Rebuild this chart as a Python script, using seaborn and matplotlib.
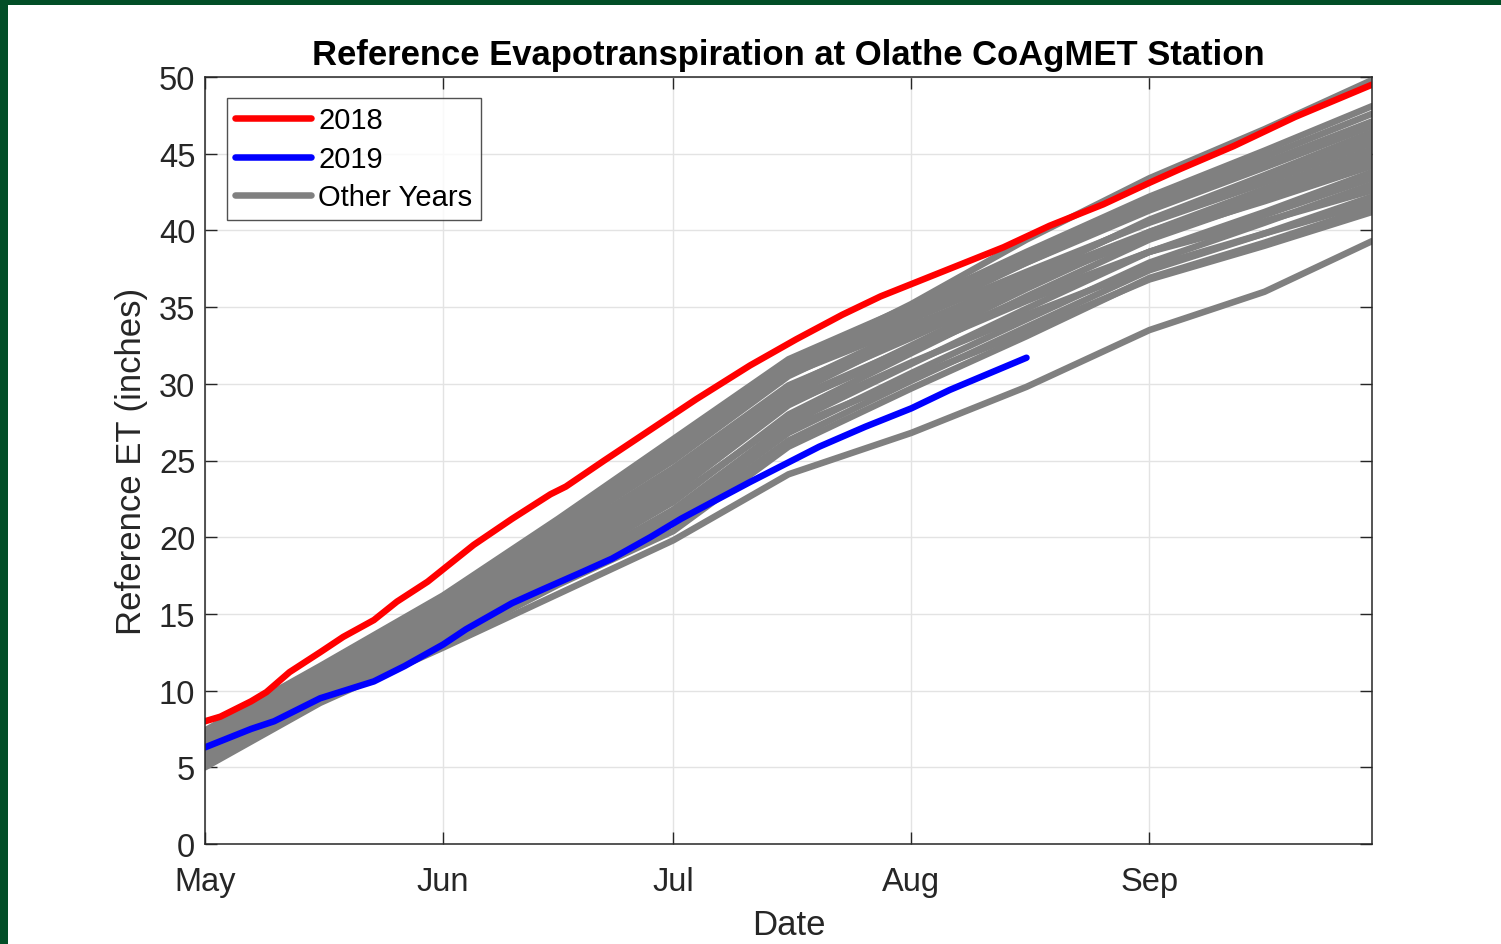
import numpy as np
import pandas as pd
import matplotlib
matplotlib.use("Agg")
import matplotlib.pyplot as plt
import matplotlib.dates as mdates
from matplotlib.lines import Line2D
from matplotlib.patches import Rectangle
import seaborn as sns

# ---------------------------------------------------------------------------
# Cumulative reference ET (inches) at Olathe, counted from May 1.
# Day offsets are days after May 1.
# ---------------------------------------------------------------------------
season_start = "2018-05-01"
season_end = "2018-09-30"

days_2018 = [0, 2, 6, 8, 11, 15, 18, 22, 25, 29, 32, 35, 40, 45, 47, 52, 58,
             64, 71, 77, 83, 88, 92, 97, 104, 110, 117, 123, 127, 134, 142,
             152]
et_2018 = [8.0, 8.3, 9.3, 9.9, 11.2, 12.5, 13.5, 14.6, 15.8, 17.1, 18.3,
           19.5, 21.2, 22.8, 23.3, 25.0, 27.0, 29.0, 31.2, 32.9, 34.5, 35.7,
           36.5, 37.5, 38.9, 40.3, 41.7, 43.1, 44.0, 45.5, 47.4, 49.5]

days_2019 = [0, 6, 9, 15, 22, 26, 31, 34, 40, 44, 49, 53, 58, 62, 65, 71,
             80, 86, 92, 97, 107]
et_2019 = [6.3, 7.5, 8.0, 9.5, 10.6, 11.6, 13.0, 14.0, 15.7, 16.6, 17.7,
           18.6, 20.0, 21.2, 22.0, 23.6, 25.9, 27.2, 28.4, 29.6, 31.7]

# Other years, sampled on the 1st and 16th of each month
anchor_days = [0, 15, 31, 46, 61, 76, 92, 107, 123, 138, 152]
et_1996 = [7.4, 11.6, 16.2, 21.2, 26.4, 31.6, 35.1, 38.6, 42.2, 45.2, 48.1]
et_1997 = [7.0, 11.3, 15.9, 20.8, 25.9, 31.2, 34.8, 38.3, 41.9, 44.8, 47.6]
et_1998 = [6.6, 10.9, 15.4, 20.2, 25.0, 30.5, 34.3, 37.9, 41.5, 44.4, 47.1]
et_1999 = [7.2, 11.4, 16.0, 20.9, 26.0, 31.1, 34.6, 37.9, 41.3, 44.1, 46.8]
et_2000 = [6.3, 10.5, 14.7, 19.0, 23.6, 29.2, 33.2, 36.9, 40.7, 43.6, 46.4]
et_2001 = [6.5, 10.7, 15.0, 19.5, 24.1, 29.8, 33.6, 37.1, 40.6, 43.4, 46.0]
et_2002 = [6.9, 11.1, 15.7, 20.4, 25.3, 30.7, 34.2, 37.3, 40.5, 43.1, 45.7]
et_2003 = [6.0, 10.1, 14.2, 18.5, 22.9, 28.6, 32.5, 36.2, 39.9, 42.7, 45.3]
et_2004 = [6.4, 10.4, 14.5, 19.2, 23.9, 29.5, 33.0, 36.4, 39.8, 42.4, 45.0]
et_2005 = [5.8, 9.9, 13.8, 17.9, 22.3, 28.0, 32.0, 35.7, 39.4, 42.0, 44.6]
et_2006 = [6.7, 10.8, 15.2, 19.8, 24.5, 29.9, 33.3, 36.5, 39.6, 41.9, 44.2]
et_2007 = [5.6, 9.7, 13.5, 17.5, 21.8, 27.4, 31.3, 34.9, 38.6, 41.2, 43.8]
et_2008 = [6.1, 10.2, 14.3, 18.7, 23.1, 28.7, 32.2, 35.4, 38.6, 41.0, 43.4]
et_2009 = [5.5, 9.6, 13.3, 17.2, 21.3, 26.8, 30.7, 34.2, 37.9, 40.5, 43.0]
et_2010 = [6.2, 10.3, 14.6, 18.9, 23.3, 28.9, 32.4, 35.6, 38.6, 40.6, 42.6]
et_2011 = [5.4, 9.5, 13.2, 17.0, 20.9, 26.3, 30.2, 33.7, 37.4, 39.8, 42.2]
et_2012 = [7.2, 11.3, 15.8, 20.8, 26.0, 31.2, 35.2, 39.4, 43.4, 46.6, 49.8]
et_2013 = [5.9, 10.0, 14.0, 18.2, 22.5, 27.8, 31.4, 34.5, 37.6, 39.8, 41.8]
et_2014 = [5.3, 9.4, 13.0, 16.9, 20.4, 25.9, 29.7, 33.1, 36.9, 39.2, 41.5]
et_2015 = [5.7, 9.8, 13.6, 17.7, 21.7, 27.1, 30.4, 33.4, 36.8, 39.0, 41.2]
et_2016 = [6.8, 11.0, 15.6, 20.6, 25.6, 30.6, 33.8, 36.8, 39.9, 42.4, 44.9]
et_2017 = [5.0, 9.2, 12.8, 16.3, 19.8, 24.1, 26.8, 29.8, 33.5, 36.0, 39.3]

other_series = [
    (1996, et_1996), (1997, et_1997), (1998, et_1998), (1999, et_1999),
    (2000, et_2000), (2001, et_2001), (2002, et_2002), (2003, et_2003),
    (2004, et_2004), (2005, et_2005), (2006, et_2006), (2007, et_2007),
    (2008, et_2008), (2009, et_2009), (2010, et_2010), (2011, et_2011),
    (2012, et_2012), (2013, et_2013), (2014, et_2014), (2015, et_2015),
    (2016, et_2016), (2017, et_2017),
]

start = pd.Timestamp(season_start)


def to_frame(year, days, values):
    return pd.DataFrame({
        "year": year,
        "date": start + pd.to_timedelta(days, unit="D"),
        "et": values,
    })


others = pd.concat([to_frame(y, anchor_days, v) for y, v in other_series],
                   ignore_index=True)
df_2018 = to_frame(2018, days_2018, et_2018)
df_2019 = to_frame(2019, days_2019, et_2019)

# ---------------------------------------------------------------------------
sns.set_style("ticks")
plt.rcParams["font.family"] = ["Liberation Sans", "DejaVu Sans"]

W, H, DPI = 1501, 945, 100
fig = plt.figure(figsize=(W / DPI, H / DPI), dpi=DPI, facecolor="white")
ax = fig.add_axes([205 / W, 1 - 845 / H, (1372 - 205) / W, (845 - 78) / H])

# dark green frame on the left and top edges
fig.patches.append(Rectangle((0, 0), 8 / W, 1, transform=fig.transFigure,
                             facecolor="#024e27", edgecolor="none", zorder=10))
fig.patches.append(Rectangle((0, 1 - 6 / H), 1, 6 / H, transform=fig.transFigure,
                             facecolor="#024e27", edgecolor="none", zorder=10))

lw = 4.7
gray = "#808080"
sns.lineplot(data=others, x="date", y="et", units="year", estimator=None,
             color=gray, lw=lw, sort=False, ax=ax, legend=False)
sns.lineplot(data=df_2018, x="date", y="et", color="#ff0000", lw=lw,
             ax=ax, legend=False)
sns.lineplot(data=df_2019, x="date", y="et", color="#0000ff", lw=lw,
             ax=ax, legend=False)

ax.set_xlim(pd.Timestamp(season_start), pd.Timestamp(season_end))
ax.set_ylim(0, 50)
ax.set_yticks(np.arange(0, 51, 5))
ax.xaxis.set_major_locator(mdates.MonthLocator())
ax.xaxis.set_major_formatter(mdates.DateFormatter("%b"))

ax.grid(True, color="#e3e3e3", lw=1.0)
ax.set_axisbelow(True)
for side in ["left", "right", "top", "bottom"]:
    ax.spines[side].set_visible(True)
    ax.spines[side].set_color("#262626")
    ax.spines[side].set_linewidth(1.1)

ax.tick_params(axis="both", direction="in", length=8.5, width=1.0,
               top=True, right=True, colors="#262626", labelsize=23.5)
ax.tick_params(axis="x", pad=15.5)
ax.tick_params(axis="y", pad=7)

ax.set_xlabel("Date", fontsize=25, color="#262626", labelpad=8)
ax.set_ylabel("Reference ET (inches)", fontsize=25, color="#262626", labelpad=8)
ax.set_title("Reference Evapotranspiration at Olathe CoAgMET Station",
             fontsize=24.9, fontweight="bold", color="black", pad=9)

handles = [Line2D([], [], color="#ff0000", lw=lw),
           Line2D([], [], color="#0000ff", lw=lw),
           Line2D([], [], color=gray, lw=lw)]
leg = ax.legend(handles, ["2018", "2019", "Other Years"],
                loc="upper left", bbox_to_anchor=(22 / 1167, 1 - 21 / 767),
                borderaxespad=0, fontsize=21, frameon=True, fancybox=False,
                handlelength=2.6, handletextpad=0.24, labelspacing=0.36,
                borderpad=0.29)
leg.get_frame().set_edgecolor("#262626")
leg.get_frame().set_linewidth(1.0)
for t in leg.get_texts():
    t.set_color("black")

fig.savefig("out.png", dpi=DPI, facecolor="white")
